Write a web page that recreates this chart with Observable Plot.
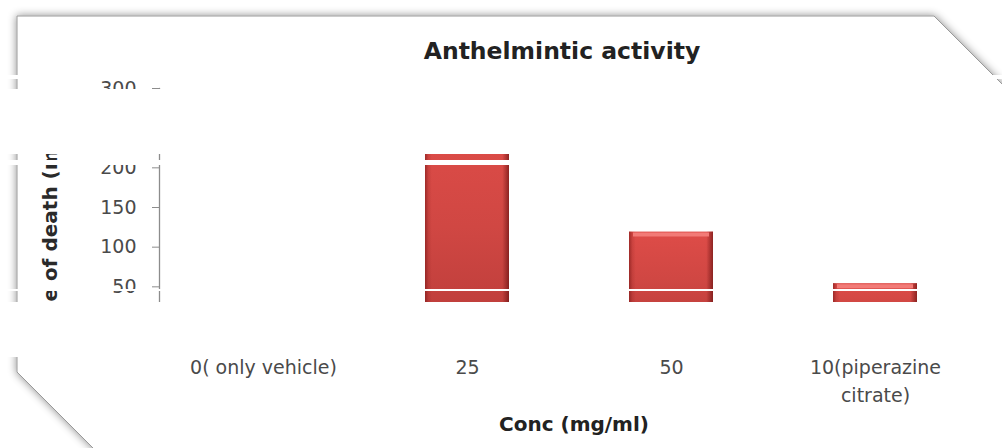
<!DOCTYPE html>
<html>
<head>
<meta charset="utf-8">
<script src="https://cdn.jsdelivr.net/npm/d3@7"></script>
<script src="https://cdn.jsdelivr.net/npm/@observablehq/plot@0.6"></script>
<style>
  html, body { margin: 0; padding: 0; background: #fff; }
  #wrap { position: relative; width: 1002px; height: 448px; overflow: hidden; background: #fff; font-family: "DejaVu Sans", sans-serif; }
  #frame, #chart, .band, .txt { position: absolute; }
  #frame { left: 0; top: 0; }
  #chart { left: 0; top: 0; }
  .txt { white-space: nowrap; line-height: 1; font-weight: bold; color: #1c1c1c; }
  #title { font-size: 23.5px; left: 562px; top: 40px; transform: translateX(-50%); color: #222; }
  #xtitle { font-size: 20px; left: 574px; top: 414px; transform: translateX(-50%); color: #222; }
  #ytitle { font-size: 20px; left: 50px; top: 231px; transform: translate(-50%, -50%) rotate(-90deg); color: #2a2a2a; }
  .band { left: 0; width: 1002px; background: #fff; }
</style>
</head>
<body>
<div id="wrap">
  <svg id="frame" width="1002" height="448">
    <defs>
      <filter id="glow" x="-20%" y="-20%" width="140%" height="140%">
        <feDropShadow dx="0" dy="0" stdDeviation="4.5" flood-color="#000" flood-opacity="0.45"/>
      </filter>
    </defs>
    <polygon points="17,16 934,16 1040,122 1040,480 125,480 17,372" fill="#fff" stroke="#9a9a9a" stroke-width="1" filter="url(#glow)"/>
  </svg>
  <div id="chart"></div>
  <div class="txt" id="title"></div>
  <div class="txt" id="xtitle"></div>
  <div class="txt" id="ytitle"></div>
  <div class="band" style="top:75px;height:4px"></div>
  <div class="band" style="top:89px;height:65px"></div>
  <div class="band" style="top:160px;height:4.5px"></div>
  <div class="band" style="top:288.5px;height:2px"></div>
  <div class="band" style="top:301.5px;height:55.5px"></div>
</div>
<script>
// ---- data ----
const categories = ["0( only vehicle)", "25", "50", "10(piperazine\ncitrate)"];
const deathTime = [0, 250, 119, 54];
const yTicks = [0, 50, 100, 150, 200, 250, 300];
const titleText = "Anthelmintic activity";
const xTitle = "Conc (mg/ml)";
const yTitle = "Time of death (min)";

const rows = categories.map((c, i) => ({ cat: c, value: deathTime[i] }));
const bars = rows.filter(d => d.value > 0);

document.getElementById("title").textContent = titleText;
document.getElementById("xtitle").textContent = xTitle;
document.getElementById("ytitle").textContent = yTitle;

const chart = Plot.plot({
  width: 1002,
  height: 448,
  marginLeft: 159,
  marginRight: 24,
  marginTop: 88,
  marginBottom: 122,
  style: { background: "transparent", fontFamily: '"DejaVu Sans", sans-serif', overflow: "visible" },
  x: { domain: categories, paddingInner: 0.589, paddingOuter: 0.2945, label: null },
  y: { domain: [0, 300], label: null },
  marks: [
    Plot.barY(bars, { x: "cat", y: "value", fill: "url(#barBody)" }),
    Plot.barY(bars, { x: "cat", y: "value", fill: "url(#barEdge)" }),
    Plot.tickY(bars, { x: "cat", y: "value", stroke: "#f27b77", strokeWidth: 4, dy: 2.5, insetLeft: 4, insetRight: 4 }),
    Plot.frame({ anchor: "left", stroke: "#8c8c8c", strokeWidth: 1.3 }),
    Plot.axisY({ ticks: yTicks, tickSize: 7, text: null, stroke: "#8c8c8c", label: null }),
    Plot.axisY({ ticks: yTicks, tickSize: 0, tickPadding: 0, dx: -23, fontSize: 19, fill: "#4a4a4a", label: null }),
    Plot.axisX({ tickSize: 0, tickPadding: 27, fontSize: 19, lineHeight: 1.5, fill: "#4a4a4a", label: null })
  ]
});

// gradients for the bars
const defs = d3.select(chart).insert("defs", ":first-child");
const body = defs.append("linearGradient").attr("id", "barBody").attr("x1", 0).attr("y1", 0).attr("x2", 0).attr("y2", 1);
[["0", "#de4c48"], ["0.5", "#d04743"], ["1", "#bc3d3a"]].forEach(([o, c]) => body.append("stop").attr("offset", o).attr("stop-color", c));
const edge = defs.append("linearGradient").attr("id", "barEdge").attr("x1", 0).attr("y1", 0).attr("x2", 1).attr("y2", 0);
[["0", "#6e1010", 0.55], ["0.04", "#6e1010", 0.15], ["0.08", "#6e1010", 0], ["0.92", "#5a0a0a", 0], ["0.96", "#5a0a0a", 0.3], ["1", "#5a0a0a", 0.6]]
  .forEach(([o, c, a]) => edge.append("stop").attr("offset", o).attr("stop-color", c).attr("stop-opacity", a));

document.getElementById("chart").appendChild(chart);
</script>
</body>
</html>
